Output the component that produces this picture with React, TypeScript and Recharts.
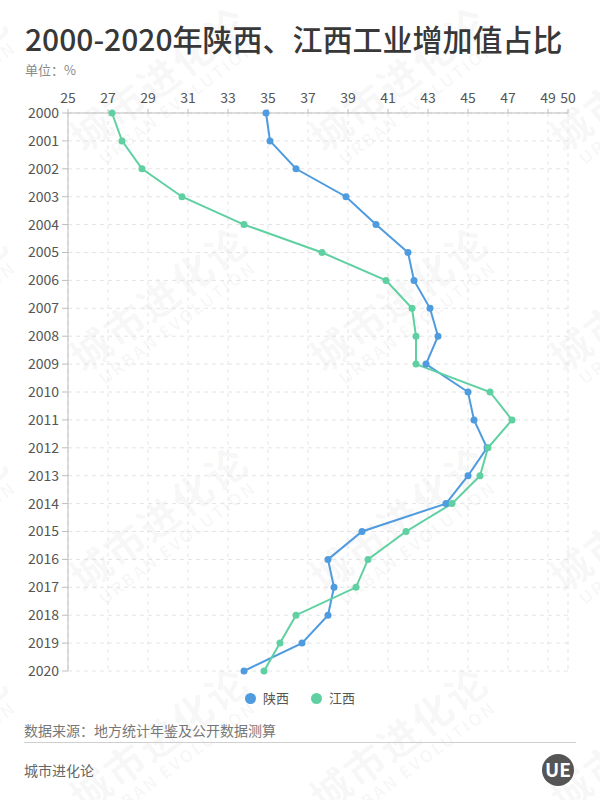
import React from 'react';
import { LineChart, Line, XAxis, YAxis, CartesianGrid } from 'recharts';

// 工业增加值占GDP比重（%）
const years = [
  '2000', '2001', '2002', '2003', '2004', '2005', '2006', '2007', '2008', '2009', '2010',
  '2011', '2012', '2013', '2014', '2015', '2016', '2017', '2018', '2019', '2020',
];
const shaanxi = [
  34.9, 35.1, 36.4, 38.9, 40.4, 42.0, 42.3, 43.1, 43.5, 42.9, 45.0,
  45.3, 45.95, 45.0, 43.9, 39.7, 38.0, 38.3, 38.0, 36.7, 33.8,
];
const jiangxi = [
  27.2, 27.7, 28.7, 30.7, 33.8, 37.7, 40.9, 42.2, 42.4, 42.4, 46.1,
  47.2, 46.0, 45.6, 44.2, 41.9, 40.0, 39.4, 36.4, 35.6, 34.8,
];
const valueTicks = [25, 27, 29, 31, 33, 35, 37, 39, 41, 43, 45, 47, 49, 50];

const series = [
  { key: 'shaanxi', name: '陕西', color: '#4f9bdf' },
  { key: 'jiangxi', name: '江西', color: '#5fd0a2' },
];

const rows = years.map((year, i) => ({ year, shaanxi: shaanxi[i], jiangxi: jiangxi[i] }));

const FONT = '"Noto Sans CJK SC", "Noto Sans", sans-serif';

// 背景水印
const markCols = [-80, 160, 400, 640];
const markRows = [80, 300, 520, 740];

const Watermarks: React.FC = () => (
  <svg width={600} height={800} style={{ position: 'absolute', left: 0, top: 0 }}>
    {markRows.map((cy) =>
      markCols.map((cx) => (
        <g key={`${cx}-${cy}`} transform={`rotate(-37 ${cx} ${cy})`} fill="rgba(0,0,0,0.04)" fontFamily={FONT}>
          <text x={cx} y={cy + 14} textAnchor="middle" fontSize={40} fontWeight={700} letterSpacing={2}>
            城市进化论
          </text>
          <text x={cx} y={cy + 35} textAnchor="middle" fontSize={17} fontWeight={700} letterSpacing={2}>
            URBAN EVOLUTION
          </text>
        </g>
      ))
    )}
  </svg>
);

const App: React.FC = () => {
  return (
    <div
      style={{
        position: 'absolute', left: 0, top: 0, width: 600, height: 800,
        background: '#fff', fontFamily: FONT, overflow: 'hidden',
      }}
    >
      <Watermarks />
      <div style={{ position: 'absolute', left: 25, top: 19, fontSize: 30, lineHeight: '38px', fontWeight: 500, color: '#383838' }}>
        2000-2020年陕西、江西工业增加值占比
      </div>
      <div style={{ position: 'absolute', left: 25, top: 61, fontSize: 13, lineHeight: '18px', color: '#8a8a8a' }}>
        单位：%
      </div>

      <div style={{ position: 'absolute', left: 0, top: 0 }}>
        <LineChart
          layout="vertical"
          width={600}
          height={800}
          data={rows}
          margin={{ top: 83, right: 32, bottom: 129, left: 0 }}
        >
          <CartesianGrid stroke="#e4e4e4" strokeDasharray="4 4" />
          <XAxis
            type="number"
            orientation="top"
            domain={[25, 50]}
            ticks={valueTicks}
            interval={0}
            height={30}
            stroke="#bdbdbd"
            tickSize={4}
            tickMargin={6}
            tick={{ fill: '#555', fontSize: 14, fontFamily: FONT }}
          />
          <YAxis
            type="category"
            dataKey="year"
            scale="point"
            padding={{ top: 0, bottom: 0 }}
            width={68}
            interval={0}
            stroke="#bdbdbd"
            tickSize={6}
            tickMargin={3}
            tick={{ fill: '#555', fontSize: 14, fontFamily: FONT }}
          />
          {series.map((s) => (
            <Line
              key={s.key}
              dataKey={s.key}
              name={s.name}
              stroke={s.color}
              strokeWidth={2}
              dot={{ r: 3.5, fill: s.color, stroke: s.color, strokeWidth: 0 }}
              isAnimationActive={false}
            />
          ))}
        </LineChart>
      </div>

      <div
        style={{
          position: 'absolute', left: 0, top: 688, width: 600, display: 'flex',
          justifyContent: 'center', alignItems: 'center', gap: 22, fontSize: 13, color: '#555',
        }}
      >
        {series.map((s) => (
          <span key={s.key} style={{ display: 'flex', alignItems: 'center' }}>
            <span style={{ width: 11, height: 11, borderRadius: '50%', background: s.color, marginRight: 7 }} />
            <span style={{ lineHeight: '20px' }}>{s.name}</span>
          </span>
        ))}
      </div>

      <div style={{ position: 'absolute', left: 24, top: 721, fontSize: 14, lineHeight: '18px', color: '#777' }}>
        数据来源：地方统计年鉴及公开数据测算
      </div>
      <div style={{ position: 'absolute', left: 24, top: 742, width: 552, borderTop: '1px solid #cfcfcf' }} />
      <div style={{ position: 'absolute', left: 24, top: 761, fontSize: 14, lineHeight: '18px', color: '#666' }}>
        城市进化论
      </div>
      <svg width={36} height={36} style={{ position: 'absolute', left: 540, top: 752 }}>
        <circle cx={18} cy={18} r={16} fill="#555" />
        <text x={18} y={25} textAnchor="middle" fontSize={19} fontWeight={700} fill="#fff" fontFamily={FONT}>
          UE
        </text>
      </svg>
    </div>
  );
};

export default App;
